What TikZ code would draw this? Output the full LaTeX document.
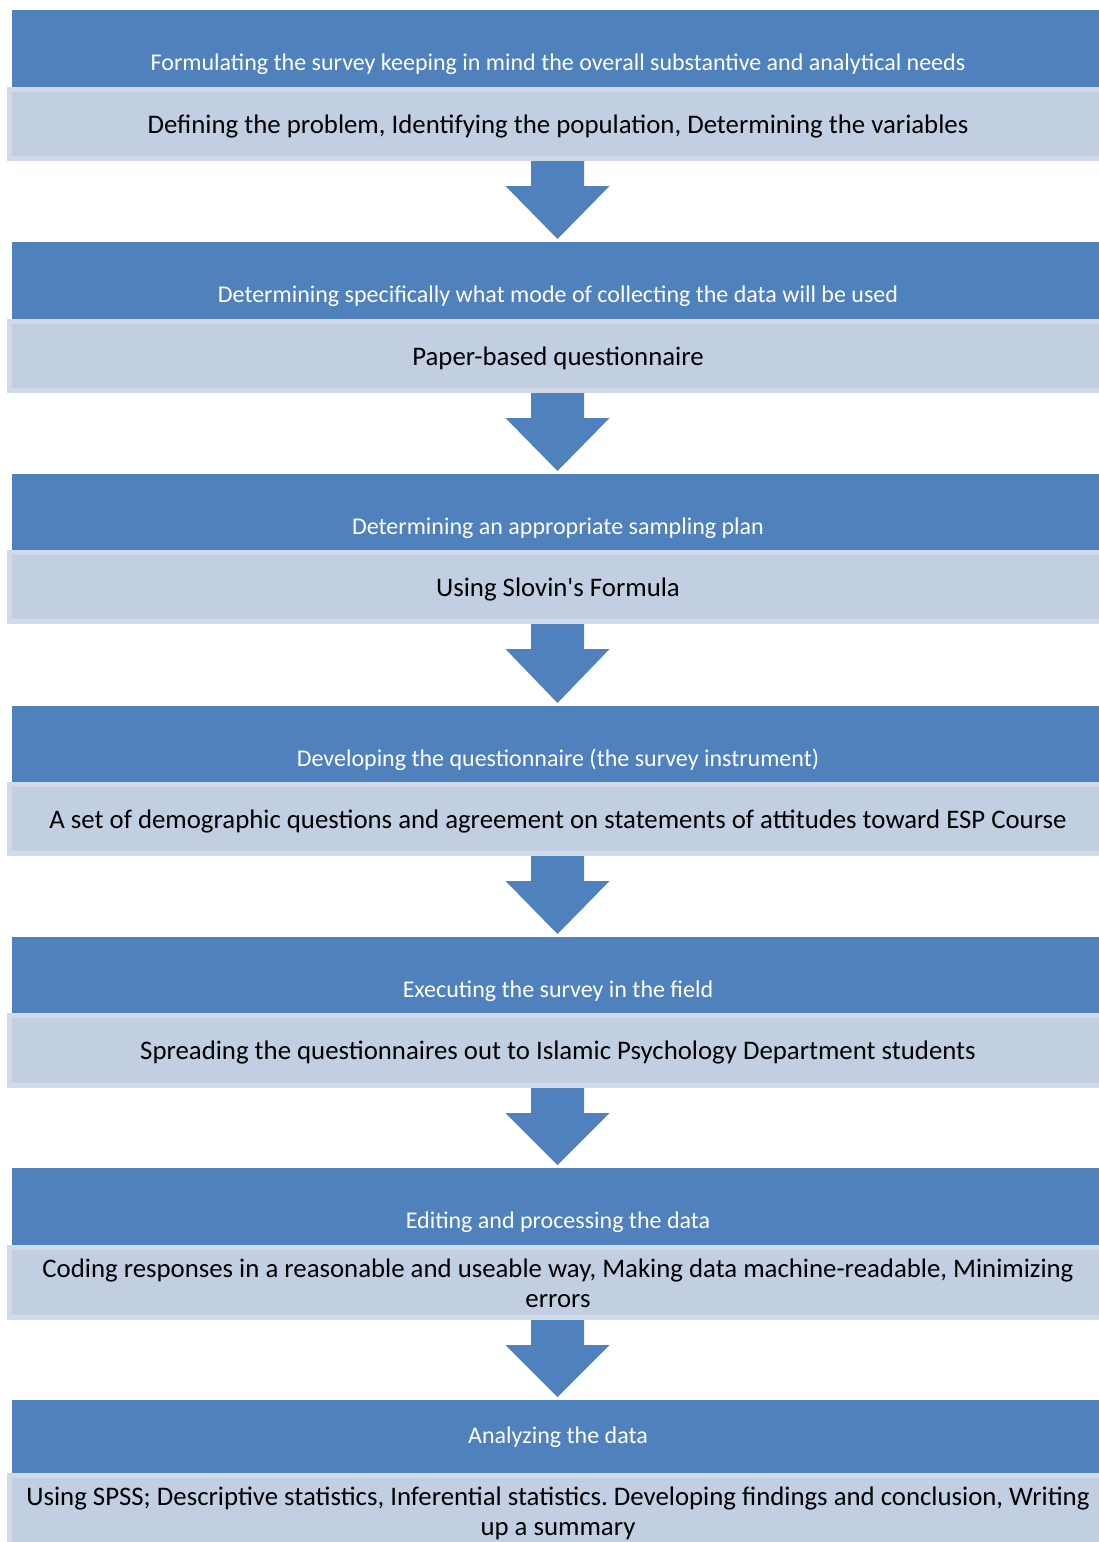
\documentclass[tikz,border=0pt]{standalone}
\usepackage{fontspec}
\setmainfont{Carlito}
\usetikzlibrary{calc}
\definecolor{bluec}{HTML}{4F81BD}
\definecolor{lightc}{HTML}{C2CEE2}
\definecolor{lightb}{HTML}{D2DAE9}
\frenchspacing
\tikzset{
  bluebox/.style={fill=bluec, draw=none, minimum width=1091pt, minimum height=77pt, inner sep=0pt, outer sep=0pt},
  lightbox/.style={fill=lightc, draw=lightb, line width=5pt, minimum width=1096pt, minimum height=69pt, inner sep=0pt, outer sep=2.5pt},
  bluetext/.style={text=white, font=\fontsize{24}{29}\selectfont, inner sep=0pt, anchor=base},
  lighttext/.style={text=black, font=\fontsize{26.8}{30}\selectfont, inner sep=0pt, align=center, anchor=base},
  blockarrow/.style={fill=bluec, draw=none},
}
\begin{document}
\begin{tikzpicture}[x=1pt,y=-1pt]
\useasboundingbox (0,0) rectangle (1099,1542);
\clip (0,0) rectangle (1099,1542);
\foreach \n/\bt/\bb/\lb in {1/10/87/161, 2/242/319/393, 3/474/550/624, 4/706/782/856, 5/937/1013/1088, 6/1168/1245/1320, 7/1400/1473/1548}{
  \node[bluebox, minimum height={\bb-\bt}] (b\n) at (557.5,{(\bt+\bb)/2}) {};
  \node[lightbox, minimum height={\lb-\bb-5}] (l\n) at (557.5,{(\bb+\lb)/2}) {};
}
% blue texts
\node[bluetext] (t1) at (558,70) {Formulating the survey keeping in mind the overall substantive and analytical needs};
\node[bluetext] (t2) at (558,302) {Determining specifically what mode of collecting the data will be used};
\node[bluetext] (t3) at (558,534) {Determining an appropriate sampling plan};
\node[bluetext] (t4) at (558,766) {Developing the questionnaire (the survey instrument)};
\node[bluetext] (t5) at (558,997) {Executing the survey in the field};
\node[bluetext] (t6) at (558,1228) {Editing and processing the data};
\node[bluetext] (t7) at (558,1443) {Analyzing the data};
% light texts (anchor base = baseline of the last line)
\node[lighttext] (s1) at (558,133) {Defining the problem, Identifying the population, Determining the variables};
\node[lighttext] (s2) at (558,365) {Paper-based questionnaire};
\node[lighttext] (s3) at (558,596) {Using Slovin\textquotesingle s Formula};
\node[lighttext] (s4) at (558,828) {A set of demographic questions and agreement on statements of attitudes toward ESP Course};
\node[lighttext] (s5) at (558,1059) {Spreading the questionnaires out to Islamic Psychology Department students};
\node[lighttext] (s6) at (558,1307) {Coding responses in a reasonable and useable way, Making data machine-readable, Minimizing\\errors};
\node[lighttext] (s7) at (558,1535) {Using SPSS; Descriptive statistics, Inferential statistics. Developing findings and conclusion, Writing\\up a summary};
% block arrows between stages
\foreach \a/\b in {1/2,2/3,3/4,4/5,5/6,6/7}{
  \fill[blockarrow]
    ($(l\a.south)+(-26.5,0)$) -- ($(l\a.south)+(26.5,0)$) -- ($(l\a.south)+(26.5,25)$)
    -- ($(l\a.south)+(52,25)$) -- ($(b\b.north)+(0,-3)$) -- ($(l\a.south)+(-52,25)$)
    -- ($(l\a.south)+(-26.5,25)$) -- cycle;
}
\end{tikzpicture}
\end{document}
